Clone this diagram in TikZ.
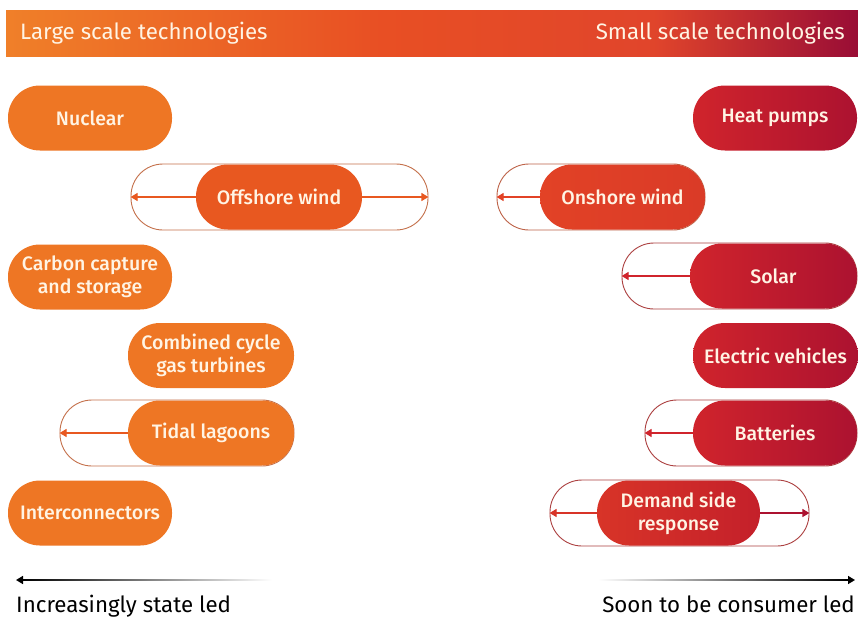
\documentclass[tikz,border=0pt]{standalone}
\usepackage{fontspec}
\setmainfont{Fira Sans}[UprightFont={* Medium}]
\newfontfamily\regfont{Fira Sans}
\usetikzlibrary{arrows.meta,calc}
\definecolor{cream}{RGB}{255,244,228}
\definecolor{orgA}{RGB}{238,118,36}
\definecolor{orgB}{RGB}{232,88,32}
\definecolor{orgC}{RGB}{226,66,38}
\definecolor{redL}{RGB}{208,36,44}
\definecolor{redR}{RGB}{172,18,48}
\definecolor{dsrL}{RGB}{216,52,40}
\definecolor{dsrR}{RGB}{196,32,42}
\definecolor{lineO}{RGB}{196,112,74}
\definecolor{lineR}{RGB}{172,64,64}
\pgfdeclarehorizontalshading{hdrshade}{100bp}{rgb(0bp)=(0.94,0.50,0.16); rgb(25bp)=(0.94,0.50,0.16); rgb(47bp)=(0.91,0.31,0.14); rgb(63bp)=(0.88,0.27,0.17); rgb(75bp)=(0.60,0.05,0.21); rgb(100bp)=(0.60,0.05,0.21)}
\begin{document}
\begin{tikzpicture}[x=1pt,y=-1pt,
  pill/.style={rectangle, rounded corners=32pt, minimum height=65pt, inner sep=0pt,
    text=cream, font=\fontsize{19.5}{23}\selectfont, align=center},
  lpill/.style={pill, fill=orgA},
  rpill/.style={pill, left color=redL, right color=redR},
  outl/.style={rectangle, rounded corners=32pt, minimum height=66pt, inner sep=0pt, draw=lineO, line width=0.9pt},
  outr/.style={outl, draw=lineR},
  tipO/.style={draw=orgB, line width=1.1pt, -{Triangle[length=7pt,width=8pt]}},
  tipR/.style={draw=redL, line width=1.1pt, -{Triangle[length=7pt,width=8pt]}},
  hdr/.style={text=cream, font=\regfont\fontsize{22.3}{25}\selectfont, inner sep=0pt},
  foot/.style={text=black, font=\regfont\fontsize{22.3}{25}\selectfont, inner sep=0pt}]
\useasboundingbox (0,0) rectangle (858,619);
\fill[white] (0,0) rectangle (858,619);
% header
\shade[shading=hdrshade] (6,10) rectangle (858,56);
\node[hdr, anchor=west] (hl) at (20,33) {Large scale technologies};
\node[hdr, anchor=east] (hr) at (845,33) {Small scale technologies};
% outlines
\node[outl, minimum width=297pt] (offo) at (279.5,197) {};
\node[outl, minimum width=208pt, draw=lineO!70!lineR] (ono) at (601,197) {};
\node[outr, minimum width=235pt] (solo) at (739.5,276) {};
\node[outl, minimum width=234pt] (tido) at (177,433) {};
\node[outr, minimum width=212pt] (bato) at (751,433) {};
\node[outr, minimum width=259pt] (dsro) at (679.5,513) {};
% left pills
\node[lpill, minimum width=164pt] (nuc) at (90,118) {Nuclear};
\node[pill, fill=orgB, minimum width=166pt] (off) at (279,197) {Offshore wind};
\node[lpill, minimum width=164pt] (ccs) at (90,277) {Carbon capture\\and storage};
\node[lpill, minimum width=166pt] (ccg) at (211,355.5) {Combined cycle\\gas turbines};
\node[lpill, minimum width=166pt] (tid) at (211,433) {Tidal lagoons};
\node[lpill, minimum width=164pt] (int) at (90,513) {Interconnectors};
% right pills
\node[pill, left color=orgC, right color=orgC!85!redR, minimum width=165pt] (on) at (622.5,197) {Onshore wind};
\node[rpill, minimum width=164pt] (heat) at (775,118) {Heat pumps};
\node[rpill, minimum width=167pt] (sol) at (773.5,276) {Solar};
\node[rpill, minimum width=165pt] (ev) at (775.5,355.5) {Electric vehicles};
\node[rpill, minimum width=164pt] (bat) at (775,433) {Batteries};
\node[pill, left color=dsrL, right color=dsrR, minimum width=163pt] (dsr) at (678.5,513) {Demand side\\response};
% arrows
\draw[tipO] (off.west) -- (offo.west);
\draw[tipO] (off.east) -- (offo.east);
\draw[tipO, draw=orgC] (on.west) -- (ono.west);
\draw[tipR] (sol.west) -- (solo.west);
\draw[tipO] (tid.west) -- (tido.west);
\draw[tipR] (bat.west) -- (bato.west);
\draw[tipR, draw=dsrL] (dsr.west) -- (dsro.west);
\draw[tipR, draw=redR] (dsr.east) -- (dsro.east);
% footer arrows
\coordinate (la) at (16,580);
\coordinate (lb) at (272,580);
\coordinate (ra) at (855,580);
\coordinate (rb) at (598,580);
\shade[left color=black, right color=white] ($(la)+(6,-0.8)$) rectangle ($(lb)+(0,0.8)$);
\shade[left color=white, right color=black] ($(rb)+(0,-0.8)$) rectangle ($(ra)+(-6,0.8)$);
\draw[black, line width=1.6pt, -{Triangle[length=7pt,width=8pt]}] ($(la)+(10,0)$) -- (la);
\draw[black, line width=1.6pt, -{Triangle[length=7pt,width=8pt]}] ($(ra)+(-10,0)$) -- (ra);
\node[foot, anchor=base west] (fl) at (16,612) {Increasingly state led};
\node[foot, anchor=base east] (fr) at (855,612) {Soon to be consumer led};
\end{tikzpicture}
\end{document}
